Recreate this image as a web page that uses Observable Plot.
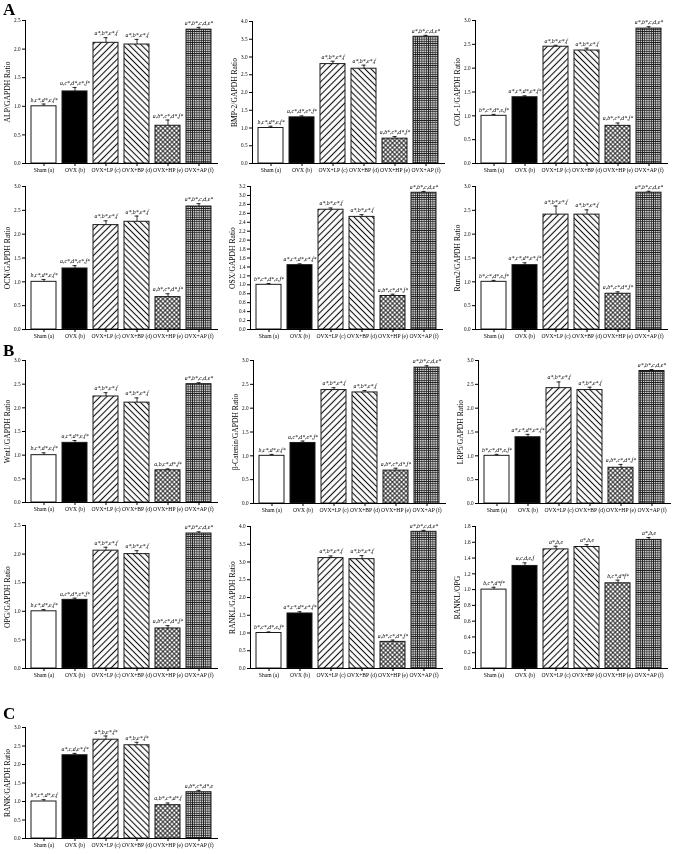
<!DOCTYPE html>
<html><head><meta charset="utf-8">
<script src="https://cdn.jsdelivr.net/npm/d3@7"></script>
<script src="https://cdn.jsdelivr.net/npm/@observablehq/plot@0.6"></script>
<style>
body{margin:0;background:#fff;}
#fig{position:relative;width:675px;height:854px;background:#fff;overflow:hidden;}
.panel{position:absolute;will-change:transform;}
.letter{position:absolute;font-family:"Liberation Serif",serif;font-weight:bold;font-size:17px;line-height:1;color:#000;}
</style></head><body>
<div id="fig">
<svg width="0" height="0" style="position:absolute;left:0;top:0">
<defs>
<pattern id="pLP" patternUnits="userSpaceOnUse" width="4.6" height="4.6" patternTransform="rotate(45)">
<rect width="4.6" height="4.6" fill="white"/><line x1="2.3" y1="-1" x2="2.3" y2="6" stroke="#111" stroke-width="1.1"/>
</pattern>
<pattern id="pBP" patternUnits="userSpaceOnUse" width="4.3" height="4.3" patternTransform="rotate(-45)">
<rect width="4.3" height="4.3" fill="white"/><line x1="2.15" y1="-1" x2="2.15" y2="5.3" stroke="#111" stroke-width="1.1"/>
</pattern>
<pattern id="pHP" patternUnits="userSpaceOnUse" width="3.2" height="3.2" patternTransform="rotate(45)">
<rect width="3.2" height="3.2" fill="white"/><line x1="1.6" y1="-1" x2="1.6" y2="4.2" stroke="#111" stroke-width="0.9"/><line x1="-1" y1="1.6" x2="4.2" y2="1.6" stroke="#111" stroke-width="0.9"/>
</pattern>
<pattern id="pAP" patternUnits="userSpaceOnUse" width="2.2" height="2.2">
<rect width="2.2" height="2.2" fill="white"/><line x1="1.1" y1="-1" x2="1.1" y2="3.2" stroke="#222" stroke-width="0.9"/><line x1="-1" y1="1.1" x2="3.2" y2="1.1" stroke="#222" stroke-width="0.9"/>
</pattern>
</defs></svg>
</div>
<script>
const groups = ["Sham (a)", "OVX (b)", "OVX+LP (c)", "OVX+BP (d)", "OVX+HP (e)", "OVX+AP (f)"];

// Panel A
const alpValues = [1.0, 1.26, 2.11, 2.08, 0.66, 2.34];
const alpErrors = [0.04, 0.07, 0.09, 0.09, 0.1, 0.04];
const alpNotes = ["b,c*,d*,e,f*", "a,c*,d*,e*,f*", "a*,b*,e*,f", "a*,b*,e*,f", "a,b*,c*,d*,f*", "a*,b*,c,d,e*"];
const bmpValues = [1.0, 1.3, 2.8, 2.67, 0.7, 3.57];
const bmpErrors = [0.05, 0.04, 0.08, 0.1, 0.06, 0.04];
const bmpNotes = ["b,c*,d*,e,f*", "a,c*,d*,e*,f*", "a*,b*,e*,f", "a*,b*,e*,f", "a,b*,c*,d*,f*", "a*,b*,c,d,e*"];
const colValues = [1.0, 1.39, 2.45, 2.37, 0.79, 2.83];
const colErrors = [0.03, 0.03, 0.03, 0.05, 0.06, 0.04];
const colNotes = ["b*,c*,d*,e,f*", "a*,c*,d*,e*,f*", "a*,b*,e*,f", "a*,b*,e*,f", "a,b*,c*,d*,f*", "a*,b*,c,d,e*"];
const ocnValues = [1.0, 1.28, 2.19, 2.26, 0.68, 2.58];
const ocnErrors = [0.05, 0.06, 0.09, 0.12, 0.07, 0.06];
const ocnNotes = ["b,c*,d*,e,f*", "a,c*,d*,e*,f*", "a*,b*,e*,f", "a*,b*,e*,f", "a,b*,c*,d*,f*", "a*,b*,c,d,e*"];
const osxValues = [1.0, 1.44, 2.68, 2.52, 0.75, 3.06];
const osxErrors = [0.03, 0.03, 0.04, 0.05, 0.04, 0.03];
const osxNotes = ["b*,c*,d*,e,f*", "a*,c*,d*,e*,f*", "a*,b*,e*,f", "a*,b*,e*,f", "a,b*,c*,d*,f*", "a*,b*,c,d,e*"];
const runxValues = [1.0, 1.35, 2.41, 2.41, 0.75, 2.87];
const runxErrors = [0.03, 0.05, 0.18, 0.1, 0.04, 0.03];
const runxNotes = ["b*,c*,d*,e,f*", "a*,c*,d*,e*,f*", "a*,b*,e*,f", "a*,b*,e*,f", "a,b*,c*,d*,f*", "a*,b*,c,d,e*"];
// Panel B
const wntValues = [1.0, 1.26, 2.24, 2.11, 0.68, 2.5];
const wntErrors = [0.05, 0.05, 0.08, 0.1, 0.03, 0.03];
const wntNotes = ["b,c*,d*,e,f*", "a,c*,d*,e,f*", "a*,b*,e*,f", "a*,b*,e*,f", "a,b,c*,d*,f*", "a*,b*,c,d,e*"];
const catValues = [1.0, 1.27, 2.38, 2.33, 0.69, 2.85];
const catErrors = [0.03, 0.04, 0.05, 0.04, 0.05, 0.04];
const catNotes = ["b,c*,d*,e,f*", "a,c*,d*,e*,f*", "a*,b*,e*,f", "a*,b*,e*,f", "a,b*,c*,d*,f*", "a*,b*,c,d,e*"];
const lrpValues = [1.0, 1.39, 2.42, 2.38, 0.75, 2.78];
const lrpErrors = [0.03, 0.06, 0.13, 0.06, 0.07, 0.03];
const lrpNotes = ["b*,c*,d*,e,f*", "a*,c*,d*,e*,f*", "a*,b*,e*,f", "a*,b*,e*,f", "a,b*,c*,d*,f*", "a*,b*,c,d,e*"];
const opgValues = [1.0, 1.2, 2.06, 2.0, 0.7, 2.36];
const opgErrors = [0.03, 0.03, 0.06, 0.06, 0.05, 0.03];
const opgNotes = ["b,c*,d*,e,f*", "a,c*,d*,e*,f*", "a*,b*,e*,f", "a*,b*,e*,f", "a,b*,c*,d*,f*", "a*,b*,c,d,e*"];
const ranklValues = [1.0, 1.55, 3.11, 3.08, 0.75, 3.85];
const ranklErrors = [0.03, 0.05, 0.06, 0.1, 0.05, 0.04];
const ranklNotes = ["b*,c*,d*,e,f*", "a*,c*,d*,e*,f*", "a*,b*,e*,f", "a*,b*,e*,f", "a,b*,c*,d*,f*", "a*,b*,c,d,e*"];
const ratioValues = [1.0, 1.3, 1.51, 1.54, 1.08, 1.63];
const ratioErrors = [0.03, 0.04, 0.04, 0.03, 0.04, 0.03];
const ratioNotes = ["b,c*,d*f*", "a,c,d,e,f", "a*,b,e", "a*,b,e", "b,c*,d*f*", "a*,b,e"];
// Panel C
const rankValues = [1.0, 2.25, 2.67, 2.52, 0.9, 1.25];
const rankErrors = [0.05, 0.05, 0.1, 0.08, 0.06, 0.05];
const rankNotes = ["b*,c*,d*,e,f", "a*,c,d,e*,f*", "a*,b,e*,f*", "a*,b,e*,f*", "a,b*,c*,d*,f", "a,b*,c*,d*,e"];

const fills = ["white", "black", "url(#pLP)", "url(#pBP)", "url(#pHP)", "url(#pAP)"];

const panels = [
  {label:"ALP/GAPDH Ratio", v:alpValues, e:alpErrors, n:alpNotes, left:0, axis:25, top:20, zero:163, max:2.5, step:0.5},
  {label:"BMP-2/GAPDH Ratio", v:bmpValues, e:bmpErrors, n:bmpNotes, left:225, axis:252, top:21, zero:163, max:4.0, step:0.5},
  {label:"COL-1/GAPDH Ratio", v:colValues, e:colErrors, n:colNotes, left:450, axis:475, top:20, zero:163, max:3.0, step:0.5},
  {label:"OCN/GAPDH Ratio", v:ocnValues, e:ocnErrors, n:ocnNotes, left:0, axis:25, top:186, zero:329, max:3.0, step:0.5},
  {label:"OSX/GAPDH Ratio", v:osxValues, e:osxErrors, n:osxNotes, left:225, axis:250, top:186, zero:329, max:3.2, step:0.2},
  {label:"Runx2/GAPDH Ratio", v:runxValues, e:runxErrors, n:runxNotes, left:450, axis:475, top:186, zero:329, max:3.0, step:0.5},
  {label:"Wnt1/GAPDH Ratio", v:wntValues, e:wntErrors, n:wntNotes, left:0, axis:25, top:360, zero:502, max:3.0, step:0.5},
  {label:"β-Catenin/GAPDH Ratio", v:catValues, e:catErrors, n:catNotes, left:225, axis:253, top:360, zero:503, max:3.0, step:0.5},
  {label:"LRP5/GAPDH Ratio", v:lrpValues, e:lrpErrors, n:lrpNotes, left:450, axis:478, top:360, zero:503, max:3.0, step:0.5},
  {label:"OPG/GAPDH Ratio", v:opgValues, e:opgErrors, n:opgNotes, left:0, axis:25, top:525, zero:668, max:2.5, step:0.5},
  {label:"RANKL/GAPDH Ratio", v:ranklValues, e:ranklErrors, n:ranklNotes, left:225, axis:250, top:526, zero:668, max:4.0, step:0.5},
  {label:"RANKL/OPG", v:ratioValues, e:ratioErrors, n:ratioNotes, left:450, axis:475, top:526, zero:668, max:1.8, step:0.2},
  {label:"RANK/GAPDH Ratio", v:rankValues, e:rankErrors, n:rankNotes, left:0, axis:25, top:727, zero:838, max:3.0, step:0.5}
];

const fig = document.getElementById("fig");
const serif = "Liberation Serif";
const plotW = 192, mt = 16, mb = 14;

for (const p of panels) {
  const rows = groups.map((g, i) => ({group: g, value: p.v[i], err: p.e[i], note: p.n[i], fill: fills[i]}));
  const ml = p.axis - p.left;
  const ticks = d3.range(0, p.max + 1e-9, p.step).map(t => +t.toFixed(2));
  const chart = Plot.plot({
    width: 225,
    height: mt + mb + (p.zero - p.top),
    marginLeft: ml,
    marginRight: 225 - ml - plotW,
    marginTop: mt,
    marginBottom: mb,
    style: {fontFamily: serif, background: "transparent", overflow: "visible", color: "black"},
    x: {domain: groups, paddingInner: 0.19, paddingOuter: 0.1},
    y: {domain: [0, p.max]},
    color: {type: "identity"},
    marks: [
      Plot.barY(rows, {x: "group", y: "value", fill: "fill", stroke: "#1a1a1a", strokeWidth: 1}),
      Plot.ruleX(rows, {x: "group", y1: "value", y2: d => d.value + d.err, stroke: "black", strokeWidth: 0.8}),
      Plot.tickY(rows, {x: "group", y: d => d.value + d.err, insetLeft: 10.5, insetRight: 10.5, stroke: "black", strokeWidth: 0.8}),
      Plot.text(rows, {x: "group", y: d => d.value + d.err, text: "note", dy: -2.5, lineAnchor: "bottom", fontStyle: "italic", fontSize: 5.8, fontFamily: serif, fill: "black"}),
      Plot.axisY({ticks, tickFormat: d3.format(".1f"), tickSize: 3, tickPadding: 2, fontSize: 5.2, label: null, stroke: "black"}),
      Plot.axisX({tickSize: 3, tickPadding: 1.5, fontSize: 5.6, label: null, stroke: "black"}),
      Plot.frame({anchor: "left", stroke: "black", strokeWidth: 1}),
      Plot.frame({anchor: "bottom", stroke: "black", strokeWidth: 1}),
      Plot.text([p.label], {frameAnchor: "left", rotate: -90, dx: -18, fontSize: 7.6, fontFamily: serif, fill: "black", textAnchor: "middle"})
    ]
  });
  chart.classList.add("panel");
  chart.style.left = p.left + "px";
  chart.style.top = (p.top - mt) + "px";
  fig.appendChild(chart);
}

for (const [t, x, y] of [["A", 3, 1], ["B", 3, 342], ["C", 3, 705]]) {
  const d = document.createElement("div");
  d.className = "letter";
  d.textContent = t;
  d.style.left = x + "px";
  d.style.top = y + "px";
  fig.appendChild(d);
}
</script>
</body></html>
